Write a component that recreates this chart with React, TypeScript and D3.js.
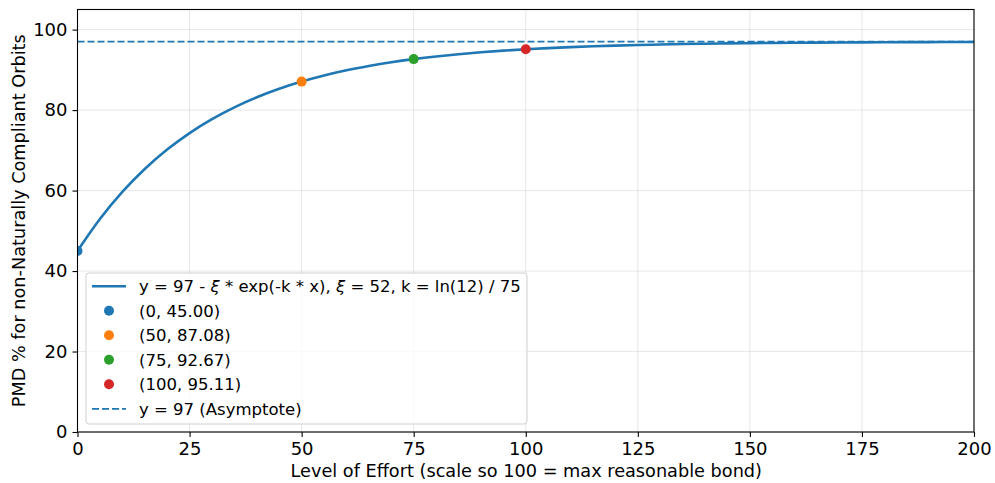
import React, { useRef, useEffect } from 'react';
import * as d3 from 'd3';

// curve samples, every 5 units of effort
const effort = [0, 5, 10, 15, 20, 25, 30, 35, 40, 45, 50, 55, 60, 65, 70, 75, 80, 85, 90, 95, 100,
  105, 110, 115, 120, 125, 130, 135, 140, 145, 150, 155, 160, 165, 170, 175, 180, 185, 190, 195, 200];
const pmd = [45.0, 52.94, 59.67, 65.37, 70.19, 74.29, 77.75, 80.69, 83.18, 85.29, 87.08,
  88.59, 89.88, 90.96, 91.89, 92.67, 93.33, 93.89, 94.36, 94.77, 95.11,
  95.4, 95.64, 95.85, 96.02, 96.17, 96.3, 96.41, 96.5, 96.57, 96.64,
  96.69, 96.74, 96.78, 96.81, 96.84, 96.87, 96.89, 96.9, 96.92, 96.93];

const markX = [0, 50, 75, 100];
const markY = [45.0, 87.08, 92.67, 95.11];
const markLabels = ['(0, 45.00)', '(50, 87.08)', '(75, 92.67)', '(100, 95.11)'];
const markColors = ['#1f77b4', '#ff7f0e', '#2ca02c', '#d62728'];

const asymptote = 97;
const xTicks = [0, 25, 50, 75, 100, 125, 150, 175, 200];
const yTicks = [0, 20, 40, 60, 80, 100];

// pieces of the curve label; the xi is set in italic like mathtext
const curveLabelParts = ['y = 97 - ', '\u03BE', ' * exp(-k * x), ', '\u03BE', ' = 52, k = ln(12) / 75'];
const asymLabel = 'y = 97 (Asymptote)';

export default function App() {
  const ref = useRef<SVGSVGElement>(null);

  useEffect(() => {
    const width = 995;
    const height = 483;
    const margin = { top: 9.5, right: 21, bottom: 51, left: 77.5 };
    const font = 'DejaVu Sans, sans-serif';

    const svg = d3.select(ref.current);
    svg.selectAll('*').remove();

    const x = d3.scaleLinear().domain([0, 200]).range([margin.left, width - margin.right]);
    const y = d3.scaleLinear().domain([0, 105]).range([height - margin.bottom, margin.top]);

    svg.append('defs').append('clipPath').attr('id', 'plotclip')
      .append('rect')
      .attr('x', x(0)).attr('y', y(105))
      .attr('width', x(200) - x(0)).attr('height', y(0) - y(105));

    // grid
    const grid = svg.append('g').attr('stroke', '#b0b0b0').attr('stroke-opacity', 0.3).attr('stroke-width', 1);
    grid.selectAll('.gx').data(xTicks).enter().append('line')
      .attr('x1', d => x(d)).attr('x2', d => x(d)).attr('y1', y(0)).attr('y2', y(105));
    grid.selectAll('.gy').data(yTicks).enter().append('line')
      .attr('x1', x(0)).attr('x2', x(200)).attr('y1', d => y(d)).attr('y2', d => y(d));

    const plot = svg.append('g').attr('clip-path', 'url(#plotclip)');

    const line = d3.line<number>()
      .x((d, i) => x(effort[i]))
      .y(d => y(d))
      .curve(d3.curveMonotoneX);

    plot.append('path')
      .datum(pmd)
      .attr('fill', 'none')
      .attr('stroke', '#1f77b4')
      .attr('stroke-width', 2.6)
      .attr('d', line);

    plot.selectAll('.pt').data(markX).enter().append('circle')
      .attr('cx', d => x(d))
      .attr('cy', (d, i) => y(markY[i]))
      .attr('r', 5)
      .attr('fill', (d, i) => markColors[i]);

    plot.append('line')
      .attr('x1', x(0)).attr('x2', x(200))
      .attr('y1', y(asymptote)).attr('y2', y(asymptote))
      .attr('stroke', '#1f77b4')
      .attr('stroke-width', 1.8)
      .attr('stroke-dasharray', '7,3');

    // axes
    const xAxis = svg.append('g')
      .attr('transform', `translate(0,${y(0)})`)
      .call(d3.axisBottom(x).tickValues(xTicks).tickSize(5).tickPadding(5).tickFormat(d3.format('d')));
    const yAxis = svg.append('g')
      .attr('transform', `translate(${x(0)},0)`)
      .call(d3.axisLeft(y).tickValues(yTicks).tickSize(5).tickPadding(5).tickFormat(d3.format('d')));
    [xAxis, yAxis].forEach(a => {
      a.select('.domain').remove();
      a.selectAll('line').attr('stroke', '#000').attr('stroke-width', 1.1);
      a.selectAll('text').attr('font-family', font).attr('font-size', 18).attr('fill', '#000');
    });

    svg.append('rect')
      .attr('x', x(0)).attr('y', y(105))
      .attr('width', x(200) - x(0)).attr('height', y(0) - y(105))
      .attr('fill', 'none').attr('stroke', '#000').attr('stroke-width', 1.1);

    svg.append('text')
      .attr('x', (x(0) + x(200)) / 2 + 0.5).attr('y', 477)
      .attr('text-anchor', 'middle')
      .attr('font-family', font).attr('font-size', 17.7)
      .text('Level of Effort (scale so 100 = max reasonable bond)');

    svg.append('text')
      .attr('transform', `translate(25,${(y(0) + y(105)) / 2}) rotate(-90)`)
      .attr('text-anchor', 'middle')
      .attr('font-family', font).attr('font-size', 17.7)
      .text('PMD % for non-Naturally Compliant Orbits');

    // legend
    const lg = svg.append('g').attr('transform', 'translate(86,273)');
    lg.append('rect')
      .attr('width', 441).attr('height', 151).attr('rx', 3)
      .attr('fill', '#fff').attr('fill-opacity', 0.8)
      .attr('stroke', '#d0d0d0').attr('stroke-width', 1);

    const rowY = (i: number) => 13.3 + i * 24.5;
    const addText = (i: number) => lg.append('text')
      .attr('x', 53).attr('y', rowY(i) + 5.8)
      .attr('font-family', font).attr('font-size', 16.5);

    // row 0: fitted curve
    lg.append('line').attr('x1', 6).attr('x2', 40).attr('y1', rowY(0)).attr('y2', rowY(0))
      .attr('stroke', '#1f77b4').attr('stroke-width', 2.6);
    const t0 = addText(0);
    curveLabelParts.forEach(p => {
      t0.append('tspan').attr('font-style', p === '\u03BE' ? 'italic' : 'normal').text(p);
    });

    // point rows
    markLabels.forEach((lab, j) => {
      const i = j + 1;
      lg.append('circle').attr('cx', 23).attr('cy', rowY(i)).attr('r', 5).attr('fill', markColors[j]);
      addText(i).text(lab);
    });

    // asymptote row
    const last = markLabels.length + 1;
    lg.append('line').attr('x1', 6).attr('x2', 40).attr('y1', rowY(last)).attr('y2', rowY(last))
      .attr('stroke', '#1f77b4').attr('stroke-width', 1.8).attr('stroke-dasharray', '7,3');
    addText(last).text(asymLabel);
  }, []);

  return (
    <div style={{ position: 'absolute', left: 0, top: 0 }}>
      <svg ref={ref} width={995} height={483} style={{ display: 'block', background: '#fff' }} />
    </div>
  );
}
